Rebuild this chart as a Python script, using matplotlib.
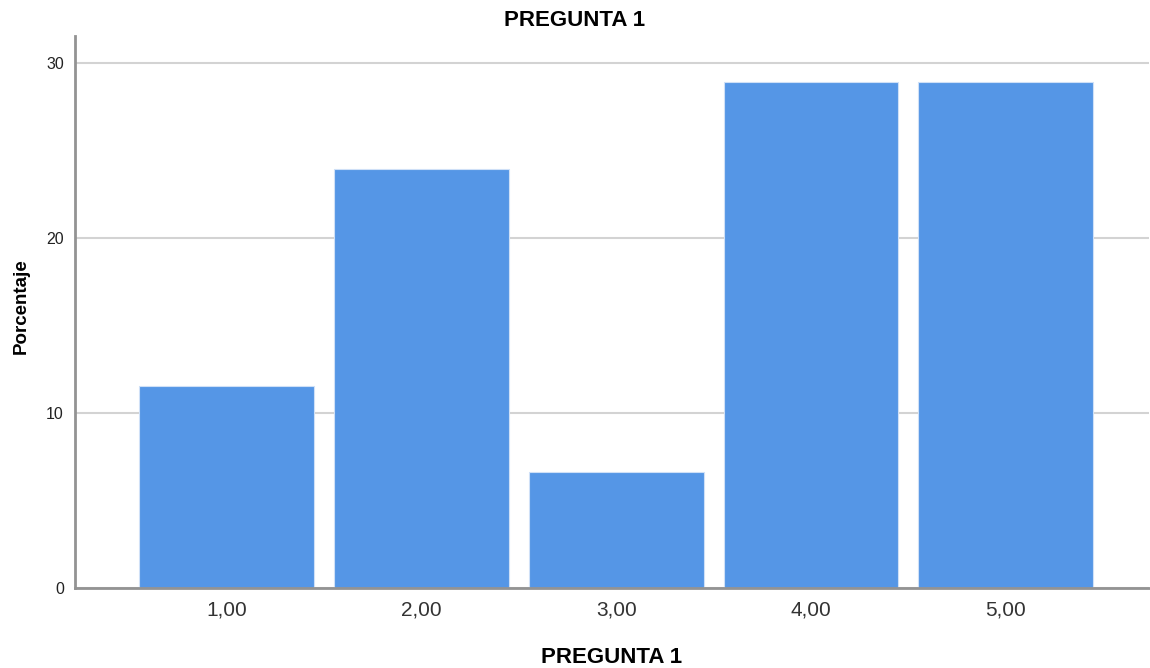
import matplotlib.pyplot as plt

# datos
categorias = [1, 2, 3, 4, 5]
etiquetas = ["1,00", "2,00", "3,00", "4,00", "5,00"]
porcentaje = [11.57, 23.97, 6.61, 28.93, 28.93]

plt.rcParams['font.family'] = ['Liberation Sans', 'DejaVu Sans']

fig = plt.figure(figsize=(11.5, 6.68), dpi=100)
ax = fig.add_axes([0.0652, 0.1198, 0.9335, 0.8263])

ax.bar(categorias, porcentaje, width=0.897, color='#5596E6',
       edgecolor='#cfe0f7', linewidth=0.8, zorder=3)

ax.set_xlim(0.221, 5.733)
ax.set_ylim(0, 31.55)
ax.set_yticks([0, 10, 20, 30])
ax.set_xticks(categorias)
ax.set_xticklabels(etiquetas)
ax.yaxis.grid(True, color='#d3d3d3', linewidth=1.5, zorder=0)

for s in ['top', 'right']:
    ax.spines[s].set_visible(False)
for s in ['left', 'bottom']:
    ax.spines[s].set_color('#939393')
    ax.spines[s].set_linewidth(2)
    ax.spines[s].set_zorder(4)

ax.tick_params(axis='y', length=0, labelsize=11.5, pad=8, colors='#222222')
ax.tick_params(axis='x', length=0, labelsize=15, pad=9, colors='#333333')

ax.set_ylabel("Porcentaje", fontsize=13.5, fontweight='bold')
ax.yaxis.set_label_coords(-0.042, 0.51)
ax.set_xlabel("PREGUNTA 1", fontsize=16, fontweight='bold', labelpad=20)
fig.text(0.5, 0.969, "PREGUNTA 1", ha='center', va='center',
         fontsize=16, fontweight='bold')

fig.savefig("out.png", dpi=100)
